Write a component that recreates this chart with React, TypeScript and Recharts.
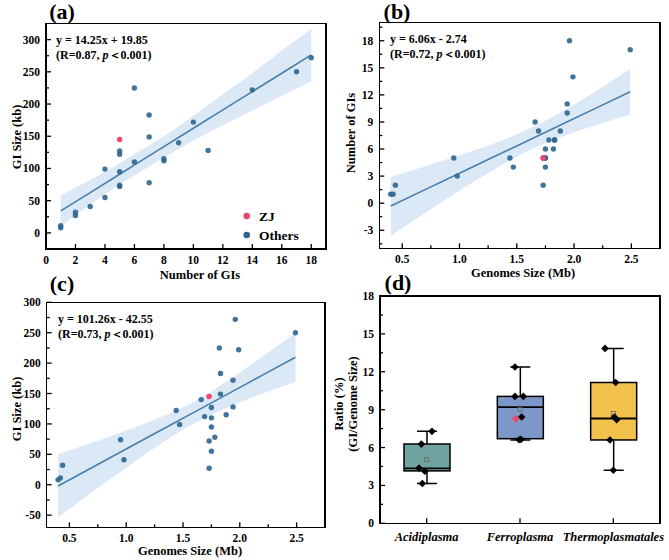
import React from "react";
import { ComposedChart, Scatter, Line, Area, Bar, XAxis, YAxis } from "recharts";

const FONT = '"Liberation Serif", "Times New Roman", serif';
const INK = "#000";
const DOT = "#2f6690";
const ZJ_RED = "#f2456b";
const FIT = "#4a7eab";
const BAND = "#dbe8f5";
const BOX_FILLS = ["#6fa39f", "#7d97c9", "#f2c14b"];

// one entry per genome, index 9 is ZJ
const genomeSize = [0.4, 0.42, 0.44, 0.95, 0.98, 1.44, 1.47, 1.66, 1.69, 1.73, 1.73, 1.73, 1.75, 1.75, 1.75, 1.75, 1.78, 1.82, 1.83, 1.83, 1.88, 1.94, 1.94, 1.96, 1.99, 2.49];
const giCount = [1, 1, 2, 5, 3, 5, 4, 9, 8, 5, 2, 5, 5, 6, 5, 4, 7, 6, 7, 7, 8, 10, 11, 18, 14, 17];
const giSize = [8, 11, 32, 74, 41, 122, 99, 140, 112, 145, 27, 72, 127, 110, 95, 55, 78, 225, 183, 149, 115, 172, 128, 272, 222, 250];
const ZJ_INDEX = 9;

// fitted lines (from the equations) and their confidence band edges
const fitA = { slope: 14.25, intercept: 19.85 };
const bandAx = [1, 3, 5, 6.5, 8, 10, 12, 14, 16, 18];
const bandAlo = [10, 44, 75, 96, 117, 143, 167, 190, 213, 235];
const bandAhi = [58, 82, 108, 129, 150, 182, 215, 248, 283, 317];

const fitB = { slope: 6.06, intercept: -2.74 };
const bandBx = [0.4, 0.7, 1.0, 1.3, 1.6, 1.9, 2.2, 2.49];
const bandBlo = [-3.6, -1.1, 1.4, 3.7, 5.8, 7.4, 8.7, 9.8];
const bandBhi = [2.9, 4.1, 5.3, 6.6, 8.2, 10.2, 12.5, 14.9];

const fitC = { slope: 101.26, intercept: -42.55 };
const bandCx = [0.4, 0.7, 1.0, 1.3, 1.6, 1.9, 2.2, 2.49];
const bandClo = [-54, -12, 28, 67, 101, 128, 150, 169];
const bandChi = [50, 69, 89, 111, 137, 172, 211, 250];

// (d) box statistics per group
const groups = ["Acidiplasma", "Ferroplasma", "Thermoplasmatales"];
const boxMin = [3.15, 6.6, 4.2];
const boxQ1 = [4.15, 6.7, 6.6];
const boxMed = [4.35, 9.2, 8.3];
const boxQ3 = [6.28, 10.05, 11.15];
const boxMax = [7.28, 12.38, 13.85];
const boxMean = [5.05, 9.03, 8.7];

// individual ratios: group slot (1..3 with a little spread) and value
const ratioPos = [1.057, 0.943, 0.918, 0.98, 0.954, 1.946, 1.946, 2.036, 2.018, 1.99, 2.01, 2.911, 3.025, 3.011, 3.036, 2.964, 3.0];
const ratioVal = [7.28, 6.27, 4.37, 4.12, 3.15, 12.38, 10.05, 10.05, 8.42, 6.62, 6.65, 13.85, 11.15, 8.42, 8.2, 6.6, 4.2];
const ratioZJ = [{ x: 1.954, y: 8.27 }];

type Pt = { x: number; y: number };

const split = (xs: number[], ys: number[]) => {
  const others: Pt[] = [];
  const zj: Pt[] = [];
  xs.forEach((x, i) => (i === ZJ_INDEX ? zj : others).push({ x, y: ys[i] }));
  return { others, zj };
};

const bandRows = (xs: number[], lo: number[], hi: number[], fit: { slope: number; intercept: number }) =>
  xs.map((x, i) => ({ x, band: [lo[i], hi[i]], fit: fit.slope * x + fit.intercept }));

const tickText = {
  fontFamily: FONT,
  fontWeight: "bold" as const,
  fontSize: 11.5,
  fill: INK,
};

const yTick = (plotLeft: number, major: number[]) => (p: any) => {
  const v = p.payload.value;
  const isMajor = major.includes(v);
  return (
    <g>
      <line x1={plotLeft} x2={plotLeft + (isMajor ? 5 : 3)} y1={p.y} y2={p.y} stroke={INK} strokeWidth={1.3} />
      {isMajor && (
        <text x={plotLeft - 6} y={p.y} textAnchor="end" dominantBaseline="central" {...tickText}>
          {v}
        </text>
      )}
    </g>
  );
};

const xTick = (plotBottom: number, major: number[], fmt: (v: any) => string, italic = false) => (p: any) => {
  const v = p.payload.value;
  const isMajor = major.length === 0 || major.includes(v);
  return (
    <g>
      <line x1={p.x} x2={p.x} y1={plotBottom} y2={plotBottom - (isMajor ? 5 : 3)} stroke={INK} strokeWidth={1.3} />
      {isMajor && (
        <text
          x={p.x}
          y={plotBottom + (italic ? 14 : 11)}
          textAnchor="middle"
          dominantBaseline="central"
          {...tickText}
          fontSize={italic ? 12.5 : 11.5}
          fontStyle={italic ? "italic" : "normal"}
        >
          {fmt(v)}
        </text>
      )}
    </g>
  );
};

const dot = (color: string, opacity = 1) => (p: any) => (
  <circle cx={p.cx} cy={p.cy} r={2.7} fill={color} fillOpacity={opacity} />
);

const diamond = (color: string) => (p: any) => (
  <polygon
    points={`${p.cx - 3.8},${p.cy} ${p.cx},${p.cy - 3.8} ${p.cx + 3.8},${p.cy} ${p.cx},${p.cy + 3.8}`}
    fill={color}
  />
);

const meanMark = (p: any) => (
  <rect x={p.cx - 2} y={p.cy - 2} width={4} height={4} fill="none" stroke="#666" strokeWidth={0.8} />
);

// black box around a plot area, drawn as four solid strips in page pixels
const Frame = ({ x, y, w, h }: { x: number; y: number; w: number; h: number }) => {
  const t = 1.5;
  const strip = (left: number, top: number, width: number, height: number) => (
    <div style={{ position: "absolute", left, top, width, height, background: "#000", zIndex: 5 }} />
  );
  return (
    <>
      {strip(x - t / 2, y - t / 2, w + t, t)}
      {strip(x - t / 2, y + h - t / 2, w + t, t)}
      {strip(x - t / 2, y - t / 2, t, h + t)}
      {strip(x + w - t / 2, y - t / 2, t, h + t)}
    </>
  );
};

const Txt = ({
  x,
  y,
  size,
  rotate = false,
  children,
}: {
  x: number;
  y: number;
  size: number;
  rotate?: boolean;
  children: React.ReactNode;
}) => (
  <div
    style={{
      position: "absolute",
      left: x,
      top: y,
      transform: `translate(-50%, -50%)${rotate ? " rotate(-90deg)" : ""}`,
      fontFamily: FONT,
      fontWeight: "bold",
      fontSize: size,
      lineHeight: 1.1,
      whiteSpace: "nowrap",
      textAlign: "center",
      color: INK,
    }}
  >
    {children}
  </div>
);

const Equation = ({ x, y, eq, r }: { x: number; y: number; eq: string; r: string }) => (
  <div
    style={{
      position: "absolute",
      left: x,
      top: y,
      fontFamily: FONT,
      fontWeight: "bold",
      fontSize: 12,
      lineHeight: "15px",
      whiteSpace: "nowrap",
      color: INK,
    }}
  >
    <div>{eq}</div>
    <div>
      (R={r}, <i>p</i>＜0.001)
    </div>
  </div>
);

type PanelProps = {
  left: number;
  top: number;
  width: number;
  height: number;
  margin: { top: number; right: number; bottom: number };
  yWidth: number;
  xDomain: [number, number];
  yDomain: [number, number];
  xTicks: number[];
  xMajor: number[];
  yTicks: number[];
  yMajor: number[];
  fmtX: (v: number) => string;
  points: { others: Pt[]; zj: Pt[] };
  band: { x: number; band: number[]; fit: number }[];
};

const X_AXIS_H = 28;

function ScatterPanel(p: PanelProps) {
  const plotBottom = p.height - p.margin.bottom - X_AXIS_H;
  return (
    <div style={{ position: "absolute", left: p.left, top: p.top }}>
      <ComposedChart width={p.width} height={p.height} data={p.band} margin={{ ...p.margin, left: 0 }}>
        <XAxis
          dataKey="x"
          type="number"
          domain={p.xDomain}
          ticks={p.xTicks}
          interval={0}
          allowDataOverflow
          axisLine={false}
          tickLine={false}
          height={X_AXIS_H}
          tick={xTick(plotBottom, p.xMajor, p.fmtX)}
        />
        <YAxis
          type="number"
          domain={p.yDomain}
          ticks={p.yTicks}
          interval={0}
          allowDataOverflow
          axisLine={false}
          tickLine={false}
          width={p.yWidth}
          tick={yTick(p.yWidth, p.yMajor)}
        />
        <Area dataKey="band" type="monotone" stroke="none" fill={BAND} fillOpacity={1} isAnimationActive={false} />
        <Line dataKey="fit" type="linear" dot={false} stroke={FIT} strokeWidth={1.6} isAnimationActive={false} />
        <Scatter data={p.points.others} dataKey="y" shape={dot(DOT, 0.9)} isAnimationActive={false} />
        <Scatter data={p.points.zj} dataKey="y" shape={dot(ZJ_RED)} isAnimationActive={false} />
      </ComposedChart>
    </div>
  );
}

const BoxShape = (p: any) => {
  const { x, y, width, height, payload } = p;
  const i = groups.indexOf(payload.name);
  const { lo, hi, q1, med, q3 } = payload;
  const py = (v: number) => y + (height * (hi - v)) / (hi - lo);
  const cx = x + width / 2;
  return (
    <g stroke={INK} strokeWidth={1.5}>
      <line x1={cx} x2={cx} y1={py(hi)} y2={py(q3)} />
      <line x1={cx} x2={cx} y1={py(q1)} y2={py(lo)} />
      <line x1={cx - 10} x2={cx + 10} y1={py(hi)} y2={py(hi)} />
      <line x1={cx - 10} x2={cx + 10} y1={py(lo)} y2={py(lo)} />
      <rect x={x} y={py(q3)} width={width} height={py(q1) - py(q3)} fill={BOX_FILLS[i]} />
      <line x1={x} x2={x + width} y1={py(med)} y2={py(med)} strokeWidth={1.8} />
    </g>
  );
};

function BoxPanel() {
  const width = 334;
  const height = 280;
  const margin = { top: 16, right: 9, bottom: 8.7, left: 0 };
  const yWidth = 45;
  const plotBottom = height - margin.bottom - X_AXIS_H;
  const rows = groups.map((name, i) => ({
    name,
    span: [boxMin[i], boxMax[i]],
    lo: boxMin[i],
    q1: boxQ1[i],
    med: boxMed[i],
    q3: boxQ3[i],
    hi: boxMax[i],
  }));
  const means = groups.map((_, i) => ({ x: i + 1, y: boxMean[i] }));
  const pts = ratioPos.map((x, i) => ({ x, y: ratioVal[i] }));
  return (
    <div style={{ position: "absolute", left: 335, top: 280 }}>
      <ComposedChart width={width} height={height} data={rows} margin={margin}>
        <XAxis
          xAxisId="cat"
          dataKey="name"
          type="category"
          axisLine={false}
          tickLine={false}
          interval={0}
          height={X_AXIS_H}
          tick={xTick(plotBottom, [], (v) => v, true)}
        />
        <XAxis xAxisId="num" dataKey="x" type="number" domain={[0.5, 3.5]} hide allowDataOverflow />
        <YAxis
          type="number"
          domain={[0, 18]}
          ticks={[0, 1.5, 3, 4.5, 6, 7.5, 9, 10.5, 12, 13.5, 15, 16.5, 18]}
          interval={0}
          allowDataOverflow
          axisLine={false}
          tickLine={false}
          width={yWidth}
          tick={yTick(yWidth, [0, 3, 6, 9, 12, 15, 18])}
        />
        <Bar xAxisId="cat" dataKey="span" barSize={46} shape={BoxShape} isAnimationActive={false} />
        <Scatter xAxisId="num" data={means} dataKey="y" shape={meanMark} isAnimationActive={false} />
        <Scatter xAxisId="num" data={pts} dataKey="y" shape={diamond(INK)} isAnimationActive={false} />
        <Scatter xAxisId="num" data={ratioZJ} dataKey="y" shape={diamond(ZJ_RED)} isAnimationActive={false} />
      </ComposedChart>
    </div>
  );
}

export default function App() {
  const ptsA = split(giCount, giSize);
  const ptsB = split(genomeSize, giCount);
  const ptsC = split(genomeSize, giSize);
  const sizeTicks = [0.5, 0.75, 1.0, 1.25, 1.5, 1.75, 2.0, 2.25, 2.5, 2.75];
  const sizeMajor = [0.5, 1.0, 1.5, 2.0, 2.5];
  const fmt1 = (v: number) => v.toFixed(1);

  return (
    <div
      style={{
        position: "absolute",
        left: 0,
        top: 0,
        width: 669,
        height: 560,
        background: "#fff",
      }}
    >
      <ScatterPanel
        left={0}
        top={0}
        width={335}
        height={280}
        margin={{ top: 23.5, right: 9, bottom: 3 }}
        yWidth={46}
        xDomain={[0, 19]}
        yDomain={[-25, 325]}
        xTicks={[0, 2, 4, 6, 8, 10, 12, 14, 16, 18]}
        xMajor={[0, 2, 4, 6, 8, 10, 12, 14, 16, 18]}
        yTicks={[0, 25, 50, 75, 100, 125, 150, 175, 200, 225, 250, 275, 300]}
        yMajor={[0, 50, 100, 150, 200, 250, 300]}
        fmtX={(v) => String(v)}
        points={ptsA}
        band={bandRows(bandAx, bandAlo, bandAhi, fitA)}
      />
      <ScatterPanel
        left={335}
        top={0}
        width={334}
        height={280}
        margin={{ top: 22.7, right: 9, bottom: 3.7 }}
        yWidth={44.3}
        xDomain={[0.3, 2.75]}
        yDomain={[-5, 20]}
        xTicks={sizeTicks}
        xMajor={sizeMajor}
        yTicks={[-4.5, -3, -1.5, 0, 1.5, 3, 4.5, 6, 7.5, 9, 10.5, 12, 13.5, 15, 16.5, 18, 19.5]}
        yMajor={[-3, 0, 3, 6, 9, 12, 15, 18]}
        fmtX={fmt1}
        points={ptsB}
        band={bandRows(bandBx, bandBlo, bandBhi, fitB)}
      />
      <ScatterPanel
        left={0}
        top={280}
        width={335}
        height={280}
        margin={{ top: 22.3, right: 10, bottom: 4.7 }}
        yWidth={46.7}
        xDomain={[0.3, 2.75]}
        yDomain={[-70, 300]}
        xTicks={sizeTicks}
        xMajor={sizeMajor}
        yTicks={[-50, -25, 0, 25, 50, 75, 100, 125, 150, 175, 200, 225, 250, 275, 300]}
        yMajor={[-50, 0, 50, 100, 150, 200, 250, 300]}
        fmtX={fmt1}
        points={ptsC}
        band={bandRows(bandCx, bandClo, bandChi, fitC)}
      />
      <BoxPanel />

      {/* plot frames */}
      <Frame x={46} y={23.5} w={280} h={225.5} />
      <Frame x={379.3} y={22.7} w={280.7} h={225.6} />
      <Frame x={46.7} y={302.3} w={278.3} h={225} />
      <Frame x={380} y={296} w={280} h={227.3} />

      {/* panel letters */}
      <Txt x={62} y={12} size={22}>(a)</Txt>
      <Txt x={397} y={12} size={22}>(b)</Txt>
      <Txt x={62} y={284} size={22}>(c)</Txt>
      <Txt x={398} y={283} size={22}>(d)</Txt>

      {/* axis titles */}
      <Txt x={200} y={276} size={12.5}>Number of GIs</Txt>
      <Txt x={18} y={137} size={12.5} rotate>GI Size (kb)</Txt>
      <Txt x={523} y={274} size={12.5}>Genomes Size (Mb)</Txt>
      <Txt x={352} y={133} size={12.5} rotate>Number of GIs</Txt>
      <Txt x={190} y={552} size={12.5}>Genomes Size (Mb)</Txt>
      <Txt x={18} y={409} size={12.5} rotate>GI Size (kb)</Txt>
      <Txt x={347} y={404} size={12.5} rotate>
        Ratio (%)
        <br />
        (GI/Genome Size)
      </Txt>

      {/* regression equations */}
      <Equation x={56} y={33} eq="y = 14.25x + 19.85" r="0.87" />
      <Equation x={390} y={32} eq="y = 6.06x - 2.74" r="0.72" />
      <Equation x={58} y={312} eq="y = 101.26x - 42.55" r="0.73" />

      {/* legend for (a) */}
      <svg style={{ position: "absolute", left: 240, top: 208 }} width={14} height={34}>
        <circle cx={6.7} cy={8} r={3.3} fill={ZJ_RED} />
        <circle cx={6.7} cy={27} r={3.3} fill={DOT} />
      </svg>
      <div
        style={{
          position: "absolute",
          left: 259,
          top: 207,
          fontFamily: FONT,
          fontWeight: "bold",
          fontSize: 13.5,
          lineHeight: "19px",
          color: INK,
        }}
      >
        <div>ZJ</div>
        <div>Others</div>
      </div>
    </div>
  );
}
